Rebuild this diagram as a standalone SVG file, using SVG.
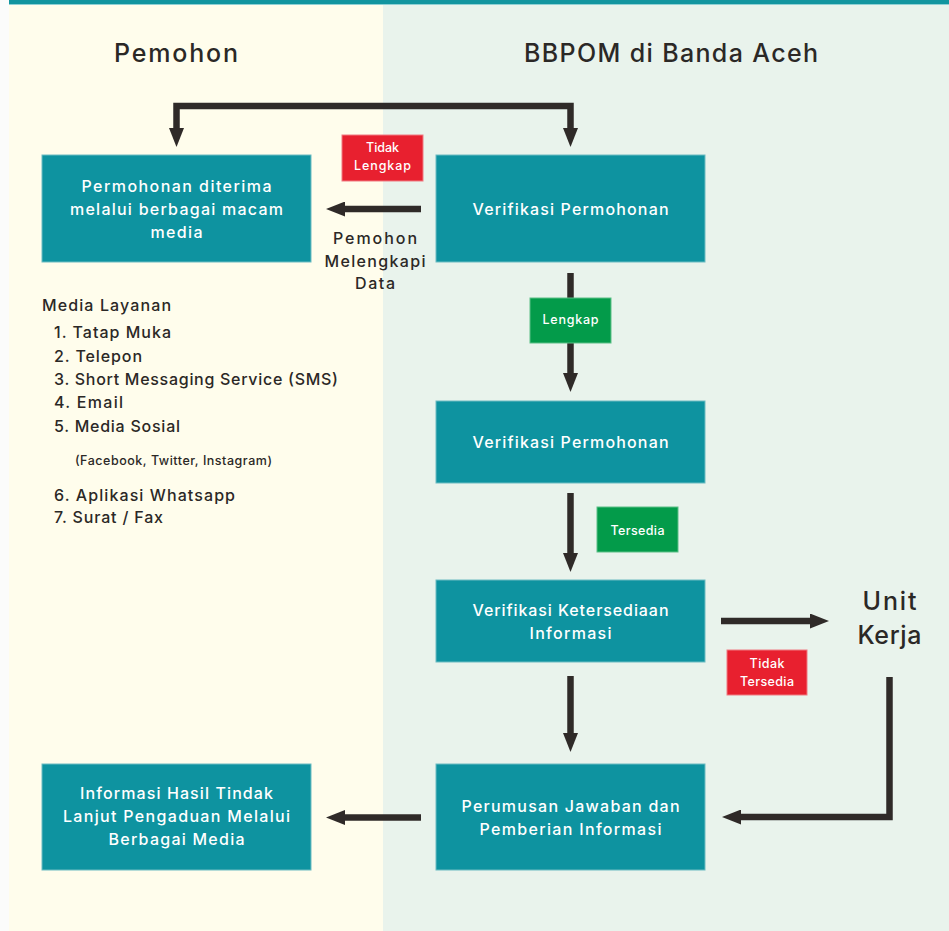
<svg xmlns="http://www.w3.org/2000/svg" width="949" height="931" viewBox="0 0 949 931">
<defs>
<style>
.box{fill:#0e93a0;stroke:#6cbcc2;stroke-width:1}
.bt{fill:#ffffff;font-family:Inter,"Open Sans","Noto Sans",sans-serif;font-size:16px;font-weight:500;text-anchor:middle}
.hd{fill:#2b2826;font-family:Inter,"Open Sans","Noto Sans",sans-serif;font-size:25px;font-weight:500;text-anchor:middle}
.tx{fill:#2b2826;font-family:Inter,"Open Sans","Noto Sans",sans-serif;font-size:16px;font-weight:500}
.sm{fill:#2b2826;font-family:Inter,"Open Sans","Noto Sans",sans-serif;font-size:12.5px;font-weight:500}
.lb{fill:#ffffff;font-family:Inter,"Open Sans","Noto Sans",sans-serif;font-size:12.5px;font-weight:500;text-anchor:middle}
.red{fill:#e8202f;stroke:#f07a82;stroke-width:1}
.grn{fill:#039b4a;stroke:#5dbf86;stroke-width:1}
.ln{fill:none;stroke:#2f2a28;stroke-width:6.5;stroke-linejoin:miter}
</style>
<marker id="ah" markerUnits="userSpaceOnUse" markerWidth="19" markerHeight="15" refX="0" refY="7.5" orient="auto-start-reverse" viewBox="0 0 19 15">
<path d="M0,0 L19,7.5 L0,15 z" fill="#2f2a28"/>
</marker>
</defs>
<g id="background">
<rect x="0" y="0" width="949" height="931" fill="#fbfcfb"/>
<rect x="9" y="0" width="374" height="931" fill="#fffdec"/>
<rect x="383" y="0" width="566" height="931" fill="#e9f3ec"/>
<rect x="9" y="0" width="940" height="4" fill="#12959f"/>
<rect x="9" y="4" width="940" height="1" fill="#8fd0d4"/>
</g>
<g id="headers">
<text class="hd" x="176" y="62" textLength="124">Pemohon</text>
<text class="hd" x="671" y="62" textLength="294">BBPOM di Banda Aceh</text>
</g>
<g id="connectors">
<path class="ln" d="M176.5,128 V106 H570.5 V128" marker-start="url(#ah)" marker-end="url(#ah)"/>
<path class="ln" d="M421,209 H345" marker-end="url(#ah)"/>
<path class="ln" d="M570.5,273 V373" marker-end="url(#ah)"/>
<path class="ln" d="M570.5,493 V553" marker-end="url(#ah)"/>
<path class="ln" d="M721,621 H810" marker-end="url(#ah)"/>
<path class="ln" d="M570.5,676 V733" marker-end="url(#ah)"/>
<path class="ln" d="M889.5,677 V817 H741" marker-end="url(#ah)"/>
<path class="ln" d="M421,817.5 H345" marker-end="url(#ah)"/>
</g>
<g id="node-permohonan-diterima">
<rect class="box" x="42" y="155" width="269" height="107"/>
<text class="bt" x="176.5" y="192" textLength="190">Permohonan diterima</text>
<text class="bt" x="176.5" y="215" textLength="213">melalui berbagai macam</text>
<text class="bt" x="176.5" y="238" textLength="52">media</text>
</g>
<g id="node-verifikasi-1">
<rect class="box" x="436" y="155" width="269" height="107"/>
<text class="bt" x="570.5" y="215" textLength="196">Verifikasi Permohonan</text>
</g>
<g id="label-tidak-lengkap">
<rect class="red" x="342" y="135" width="81" height="46"/>
<text class="lb" x="382.5" y="152" textLength="33">Tidak</text>
<text class="lb" x="382.5" y="170" textLength="57">Lengkap</text>
</g>
<g id="label-pemohon-melengkapi">
<text class="tx" x="375" y="244" text-anchor="middle" textLength="84">Pemohon</text>
<text class="tx" x="375" y="267" text-anchor="middle" textLength="101">Melengkapi</text>
<text class="tx" x="375" y="289" text-anchor="middle" textLength="40">Data</text>
</g>
<g id="label-lengkap">
<rect class="grn" x="530" y="298" width="81" height="45"/>
<text class="lb" x="570.5" y="324" textLength="56">Lengkap</text>
</g>
<g id="media-layanan">
<text class="tx" x="42" y="311" textLength="129">Media Layanan</text>
<text class="tx" x="54" y="338" textLength="117">1. Tatap Muka</text>
<text class="tx" x="54" y="362" textLength="88">2. Telepon</text>
<text class="tx" x="54" y="385" textLength="284">3. Short Messaging Service (SMS)</text>
<text class="tx" x="54" y="408" textLength="69">4. Email</text>
<text class="tx" x="54" y="432" textLength="126">5. Media Sosial</text>
<text class="sm" x="75" y="465" textLength="197">(Facebook, Twitter, Instagram)</text>
<text class="tx" x="54" y="501" textLength="181">6. Aplikasi Whatsapp</text>
<text class="tx" x="54" y="523" textLength="109">7. Surat / Fax</text>
</g>
<g id="node-verifikasi-2">
<rect class="box" x="436" y="401" width="269" height="82"/>
<text class="bt" x="570.5" y="448" textLength="196">Verifikasi Permohonan</text>
</g>
<g id="label-tersedia">
<rect class="grn" x="597" y="507" width="81" height="45"/>
<text class="lb" x="637.5" y="535" textLength="54">Tersedia</text>
</g>
<g id="node-verifikasi-ketersediaan">
<rect class="box" x="436" y="580" width="269" height="82"/>
<text class="bt" x="570.5" y="616" textLength="196">Verifikasi Ketersediaan</text>
<text class="bt" x="570.5" y="639" textLength="82">Informasi</text>
</g>
<g id="node-unit-kerja">
<text class="hd" x="889.5" y="610" textLength="54">Unit</text>
<text class="hd" x="889.5" y="644" textLength="64">Kerja</text>
</g>
<g id="label-tidak-tersedia">
<rect class="red" x="727" y="650" width="80" height="45"/>
<text class="lb" x="767" y="668" textLength="35">Tidak</text>
<text class="lb" x="767" y="686" textLength="54">Tersedia</text>
</g>
<g id="node-perumusan">
<rect class="box" x="436" y="764" width="269" height="106"/>
<text class="bt" x="570.5" y="812" textLength="218">Perumusan Jawaban dan</text>
<text class="bt" x="570.5" y="835" textLength="182">Pemberian Informasi</text>
</g>
<g id="node-informasi-hasil">
<rect class="box" x="42" y="764" width="269" height="106"/>
<text class="bt" x="176.5" y="799" textLength="193">Informasi Hasil Tindak</text>
<text class="bt" x="176.5" y="822" textLength="227">Lanjut Pengaduan Melalui</text>
<text class="bt" x="176.5" y="845" textLength="136">Berbagai Media</text>
</g>
</svg>
